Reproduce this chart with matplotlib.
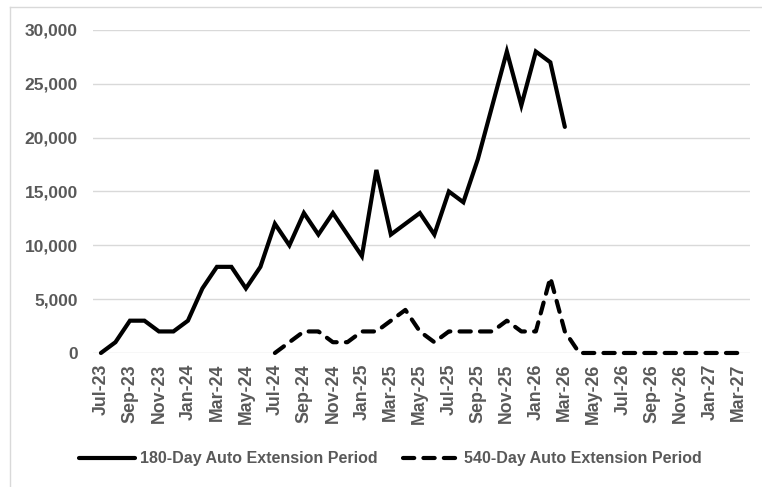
import numpy as np
import pandas as pd
import matplotlib
matplotlib.use("Agg")
import matplotlib.pyplot as plt
from matplotlib.lines import Line2D

# monthly categories Jul-23 .. Mar-27
months = pd.date_range("2023-07-01", "2027-03-01", freq="MS").strftime("%b-%y").tolist()

# 180-day series, Jul-23 .. Mar-26
auto_180 = [0, 1000, 3000, 3000, 2000, 2000, 3000, 6000, 8000, 8000, 6000, 8000,
            12000, 10000, 13000, 11000, 13000, 11000, 9000, 17000, 11000, 12000,
            13000, 11000, 15000, 14000, 18000, 23000, 28000, 23000, 28000, 27000,
            21000]

# 540-day series, Jul-24 .. Mar-27
auto_540 = [0, 1000, 2000, 2000, 1000, 1000, 2000, 2000, 3000, 4000, 2000, 1000,
            2000, 2000, 2000, 2000, 3000, 2000, 2000, 7000, 2000, 0, 0, 0, 0, 0,
            0, 0, 0, 0, 0, 0, 0]
start_540 = months.index("Jul-24")

label_180 = "180-Day Auto Extension Period"
label_540 = "540-Day Auto Extension Period"

gray = "#595959"
font = ["Liberation Sans", "DejaVu Sans"]

fig = plt.figure(figsize=(7.62, 4.87), dpi=100)
ax = fig.add_axes([0.122, 0.2752, 0.862, 0.6632])

x = np.arange(len(months))
ax.plot(x[:len(auto_180)], auto_180, color="black", lw=3.0,
        solid_capstyle="round", solid_joinstyle="miter", clip_on=False,
        label=label_180)
ax.plot(x[start_540:start_540 + len(auto_540)], auto_540, color="black", lw=3.0,
        linestyle=(0, (2.7, 2.2)), dash_capstyle="round", clip_on=False,
        label=label_540)

ax.set_xlim(-0.55, 44.76)
ax.set_ylim(0, 30000)
ax.set_yticks(np.arange(0, 30001, 5000))
ax.set_yticklabels([f"{v:,}" for v in range(0, 30001, 5000)])
ax.set_xticks(x[::2])
ax.set_xticklabels(months[::2], rotation=90)

ax.grid(axis="y", color="#d9d9d9", lw=1)
ax.set_axisbelow(True)
for s in ax.spines.values():
    s.set_visible(False)
ax.tick_params(axis="x", length=0, pad=8)
ax.tick_params(axis="y", length=0, pad=11)
for t in ax.get_yticklabels():
    t.set_fontfamily(font)
    t.set_fontweight("bold")
    t.set_fontsize(12.5)
    t.set_color(gray)
for t in ax.get_xticklabels():
    t.set_fontfamily(font)
    t.set_fontweight("bold")
    t.set_fontsize(12.8)
    t.set_color(gray)

leg = fig.legend(loc="center", bbox_to_anchor=(0.512, 0.0575), ncol=2,
                 frameon=False, handlelength=3.5, handletextpad=0.3,
                 columnspacing=1.6,
                 prop={"family": font, "weight": "bold", "size": 11.5})
for t in leg.get_texts():
    t.set_color(gray)

# chart area border (left and top edges visible)
fig.add_artist(Line2D([10 / 762, 10 / 762], [0, 1 - 7 / 487], color="#d9d9d9", lw=1))
fig.add_artist(Line2D([10 / 762, 1], [1 - 7 / 487, 1 - 7 / 487], color="#d9d9d9", lw=1))

fig.savefig("out.png", dpi=100)
